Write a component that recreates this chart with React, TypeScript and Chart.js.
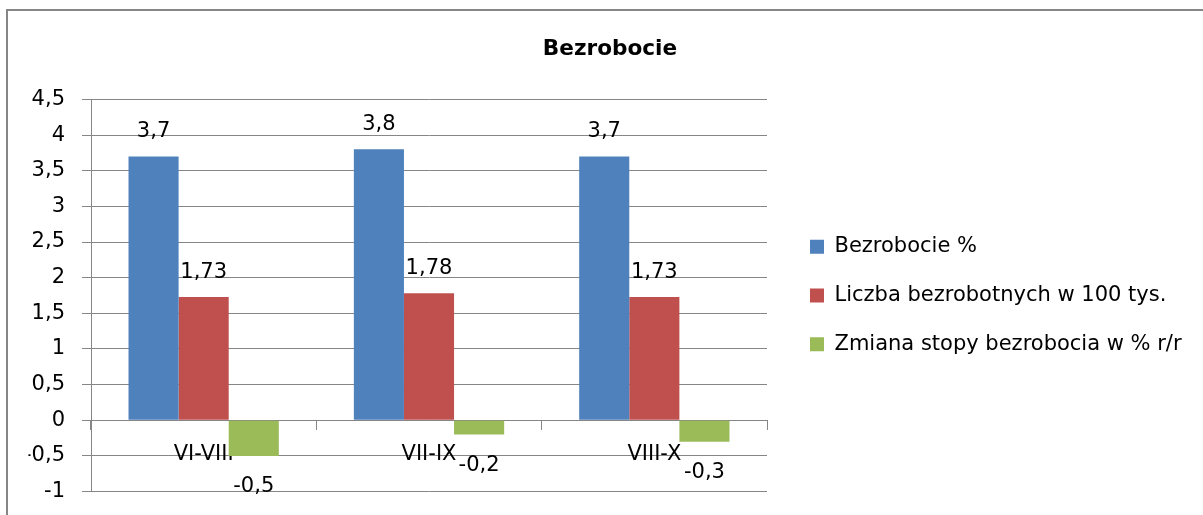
import React, { useEffect, useRef } from 'react';
import { Chart, registerables } from 'chart.js';

Chart.register(...registerables);

// ---- data ----
const categories = ['VI-VIII', 'VII-IX', 'VIII-X'];
const unemploymentRate = [3.7, 3.8, 3.7];
const unemployedCount = [1.73, 1.78, 1.73];
const rateChange = [-0.5, -0.2, -0.3];
const seriesNames = ['Bezrobocie %', 'Liczba bezrobotnych w 100 tys.', 'Zmiana stopy bezrobocia w % r/r'];
const seriesColors = ['#4F81BD', '#C0504D', '#9BBB59'];
const titleText = 'Bezrobocie';
const yMin = -1;
const yMax = 4.5;
const yStep = 0.5;

// ---- style / layout targets ----
const W = 1203;
const H = 515;
const FAMILY = "'DejaVu Sans'";
const FS = 21;
const GRID = '#868686';
const LEGEND_PAD = 27.7;
const LEGEND_BOX = 14;
const LEGEND_LEFT = 782.3;
const PLOT_LEFT = 91;
const PLOT_RIGHT = 767;
const PLOT_TOP = 99.4;
const PLOT_BOTTOM = 491.6;
const TITLE_CX = 610;

const fmt = (v: number) => String(v).replace('.', ',');

const framePlugin = {
  id: 'frame',
  beforeDraw(chart: any) {
    const ctx = chart.ctx;
    ctx.save();
    ctx.fillStyle = '#ffffff';
    ctx.fillRect(0, 0, chart.width, chart.height);
    ctx.strokeStyle = GRID;
    ctx.lineWidth = 2;
    ctx.strokeRect(7, 10, 1400, 700);
    ctx.restore();
  },
};

const valueLabelPlugin = {
  id: 'valueLabels',
  afterDatasetsDraw(chart: any) {
    const ctx = chart.ctx;
    ctx.save();
    ctx.font = `${FS}px ${FAMILY}`;
    ctx.fillStyle = '#000000';
    ctx.textAlign = 'center';
    ctx.textBaseline = 'alphabetic';
    chart.data.datasets.forEach((ds: any, i: number) => {
      const meta = chart.getDatasetMeta(i);
      meta.data.forEach((el: any, j: number) => {
        const v = ds.data[j] as number;
        const { x, y } = el.getProps(['x', 'y'], true);
        ctx.fillText(fmt(v), x, v >= 0 ? y - 19 : y + 36);
      });
    });
    ctx.restore();
  },
};

export default function App() {
  const ref = useRef<HTMLCanvasElement>(null);

  useEffect(() => {
    if (!ref.current) return;
    const m = document.createElement('canvas').getContext('2d')!;
    m.font = `${FS}px ${FAMILY}`;
    const maxText = Math.max(...seriesNames.map((s) => m.measureText(s).width));
    const legendWidth = LEGEND_PAD + LEGEND_BOX + FS / 2 + maxText;

    const pad = { top: 0, left: 0, right: W - LEGEND_LEFT - legendWidth - 10, bottom: H - PLOT_BOTTOM };
    pad.left = pad.right + 2 * TITLE_CX - W;
    const titlePad = { top: 36.4, bottom: 37.8 };

    const values = [unemploymentRate, unemployedCount, rateChange];

    const chart = new Chart(ref.current, {
      type: 'bar',
      data: {
        labels: categories,
        datasets: values.map((d, i) => ({
          label: seriesNames[i],
          data: d,
          backgroundColor: seriesColors[i],
          borderWidth: 0,
          yAxisID: 'y',
          xAxisID: 'x',
          categoryPercentage: 0.667,
          barPercentage: 1,
        })),
      },
      options: {
        responsive: false,
        animation: false,
        devicePixelRatio: 1,
        layout: { padding: { ...pad } },
        plugins: {
          tooltip: { enabled: false },
          title: {
            display: true,
            text: titleText,
            color: '#000000',
            font: { family: FAMILY, size: 21.6, weight: 'bold' },
            padding: { ...titlePad },
          },
          legend: {
            display: true,
            position: 'right',
            fullSize: false,
            maxWidth: 600,
            align: 'center',
            labels: {
              color: '#000000',
              font: { family: FAMILY, size: FS },
              boxWidth: LEGEND_BOX,
              boxHeight: LEGEND_BOX,
              padding: LEGEND_PAD,
            },
          },
        },
        scales: {
          y: {
            type: 'linear',
            position: 'left',
            min: yMin,
            max: yMax,
            ticks: {
              stepSize: yStep,
              color: '#000000',
              font: { family: FAMILY, size: FS, lineHeight: 0.6 },
              padding: 17,
              callback: (v: any) => fmt(Number(v)),
            },
            grid: { color: GRID, lineWidth: 1, tickLength: 9, drawTicks: true },
            border: { display: true, color: GRID, width: 1 },
            afterFit: (s: any) => {
              s.width = PLOT_LEFT - pad.left;
            },
          },
          x: {
            type: 'category',
            position: { y: 0 } as any,
            offset: true,
            grid: {
              display: true,
              drawOnChartArea: false,
              drawTicks: true,
              tickLength: 9,
              color: GRID,
              offset: true,
            },
            border: { display: true, color: GRID, width: 1 },
            ticks: {
              color: '#000000',
              font: { family: FAMILY, size: FS },
              padding: 13,
              maxRotation: 0,
              autoSkip: false,
            },
          },
          yGap: {
            type: 'linear',
            axis: 'y',
            position: 'right',
            display: true,
            grid: { display: false, drawTicks: false },
            border: { display: false },
            ticks: { display: false },
            afterFit: (s: any) => {
              s.width = LEGEND_LEFT - PLOT_RIGHT;
            },
          } as any,
        },
      },
      plugins: [framePlugin, valueLabelPlugin],
    } as any);

    // fine-tune the layout paddings so the plot area lands on the target box
    for (let k = 0; k < 3; k++) {
      const ca = chart.chartArea;
      const lg: any = (chart as any).legend;
      if (!ca || !lg) break;
      const dR = lg.left - LEGEND_LEFT;
      const dB = PLOT_BOTTOM - ca.bottom;
      const dT = PLOT_TOP - ca.top;
      if (Math.abs(dR) < 0.2 && Math.abs(dB) < 0.2 && Math.abs(dT) < 0.2) break;
      pad.right += dR;
      pad.left = pad.right + 2 * TITLE_CX - W;
      pad.bottom = Math.max(0, pad.bottom - dB);
      titlePad.bottom += dT;
      const o: any = chart.config.options;
      o.layout.padding = { ...pad };
      o.plugins.title.padding = { ...titlePad };
      chart.update();
    }

    return () => chart.destroy();
  }, []);

  return (
    <canvas
      ref={ref}
      width={W}
      height={H}
      style={{ position: 'absolute', left: 0, top: 0, display: 'block' }}
    />
  );
}
